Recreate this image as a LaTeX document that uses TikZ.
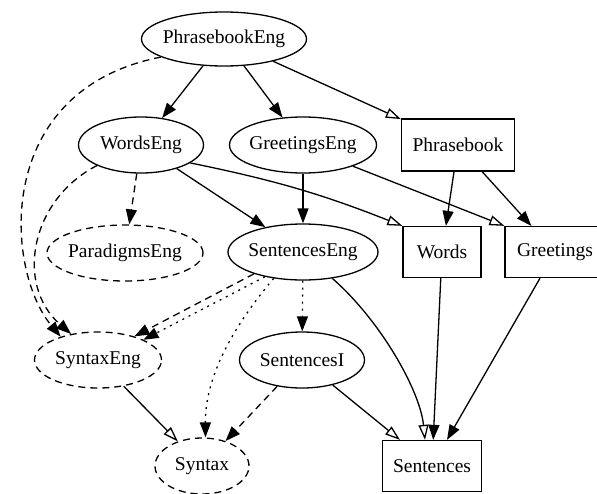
\documentclass[tikz,border=0pt]{standalone}
\usepackage{fontspec}
\setmainfont{Liberation Serif}
\usetikzlibrary{shapes.geometric,arrows.meta}
\begin{document}
\begin{tikzpicture}[x=1pt,y=-1pt,
  every node/.style={font=\fontsize{19.5}{22}\selectfont, inner sep=0pt},
  el/.style={ellipse, draw, line width=1.3pt, minimum height=56pt},
  dashel/.style={el, dash pattern=on 7pt off 5pt},
  bx/.style={rectangle, draw, line width=1.3pt, minimum height=51pt},
  ln/.style={line width=1.3pt},
  fa/.style={ln, -{Triangle[length=15pt,width=11pt]}},
  oa/.style={ln, -{Triangle[open,length=15pt,width=10pt]}},
  dsh/.style={dash pattern=on 7pt off 5pt},
  dotln/.style={dash pattern=on 2pt off 5pt},
]
\useasboundingbox (0,0) rectangle (597,493);
\clip (0,0) rectangle (597,493);

% nodes
\node[el, minimum width=165pt, minimum height=54pt] (PE) at (224,39) {\makebox[0pt]{PhrasebookEng}};
\node[el, minimum width=125pt] (WE) at (141,145) {\makebox[0pt]{WordsEng}};
\node[el, minimum width=147pt] (GE) at (303,145) {\makebox[0pt]{GreetingsEng}};
\node[bx, minimum width=113pt, minimum height=52pt] (PB) at (458,145) {Phrasebook};
\node[dashel, minimum width=156pt] (PDE) at (125,253) {\makebox[0pt]{ParadigmsEng}};
\node[el, minimum width=150pt] (SE) at (303,252) {\makebox[0pt]{SentencesEng}};
\node[bx, minimum width=78pt] (W) at (442,252) {Words};
\node[bx, minimum width=100pt] (G) at (555,252) {Greetings};
\node[dashel, minimum width=127pt] (SXE) at (98,360) {\makebox[0pt]{SyntaxEng}};
\node[el, minimum width=125pt] (SI) at (302,360) {\makebox[0pt]{SentencesI}};
\node[dashel, minimum width=94pt] (SX) at (202,466) {\makebox[0pt]{Syntax}};
\node[bx, minimum width=99pt] (S) at (432,466) {Sentences};

% edges
\draw[fa] (PE) -- (WE);
\draw[fa] (PE) -- (GE);
\draw[oa] (PE) -- (PB);
\draw[fa,dsh] (PE.196) .. controls (-8,90) and (5,270) .. (SXE.148);
\draw[fa,dsh] (WE) -- (PDE);
\draw[fa] (WE) -- (SE);
\draw[oa] (WE.-20) to[bend left=5] (W.north west);
\draw[fa,dsh] (WE.205) .. controls (30,200) and (15,285) .. (SXE.136);
\draw[fa] (GE) -- (SE);
\draw[oa] (GE.-23) -- (G.north west);
\draw[fa] (PB) -- (W);
\draw[fa] (PB) -- (G);
\draw[fa,dsh] (SE.204) -- (SXE.33);
\draw[fa,dotln] (SE.213) -- (SXE.24);
\draw[fa,dotln] (SE.222) .. controls (230,330) and (205,380) .. (SX.83);
\draw[fa,dotln] (SE) -- (SI);
\draw[oa] (SE.-42) .. controls (380,320) and (420,390) .. ([xshift=-7pt]S.north);
\draw[fa,dsh] (SI) -- (SX);
\draw[oa] (SI) -- (S);
\draw[oa] (SXE) -- (SX);
\draw[fa] (W) -- (S);
\draw[fa] (G) -- (S);
\end{tikzpicture}
\end{document}
